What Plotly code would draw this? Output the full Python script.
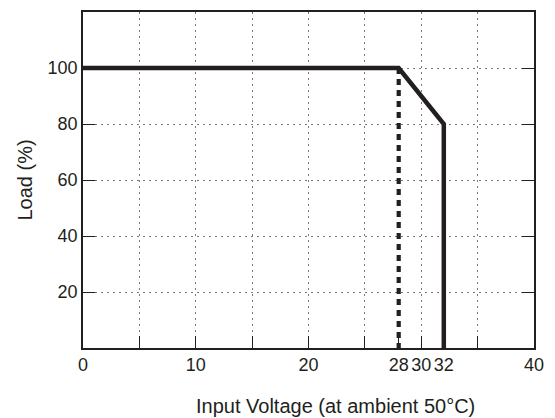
import plotly.graph_objects as go

# Derating curve data
curve_x = [0, 28, 32, 32]
curve_y = [100, 100, 80, 0]
marker_x = [28, 28]
marker_y = [100, 0]

x_tickvals = [0, 5, 10, 15, 20, 25, 28, 30, 32, 35, 40]
x_ticktext = ["0", "", "10", "", "20", "", "28", "30", "32", "", "40"]
x_gridvals = [5, 10, 15, 20, 25, 30, 35]
y_tickvals = [20, 40, 60, 80, 100]
y_ticktext = ["20", "40", "60", "80", "100"]

INK = "#231f20"
GRID = "#7a7a7a"
FONT = "Liberation Sans, Arial, Helvetica, sans-serif"

fig = go.Figure()
fig.add_trace(go.Scatter(x=marker_x, y=marker_y, mode="lines",
                         line=dict(color=INK, width=4.2, dash="6px,5px"),
                         showlegend=False, hoverinfo="skip"))
fig.add_trace(go.Scatter(x=curve_x, y=curve_y, mode="lines",
                         line=dict(color=INK, width=4.5),
                         showlegend=False))

# page body has an 8px default margin, so the figure is 8px smaller
fig.update_layout(
    width=547, height=410,
    margin=dict(l=75, r=21, t=2, b=70),
    paper_bgcolor="white", plot_bgcolor="white",
    font=dict(family=FONT, size=18, color=INK),
    xaxis=dict(
        range=[0, 40], showline=True, linecolor=INK, linewidth=1.5, mirror=True,
        tickvals=x_tickvals, ticktext=x_ticktext,
        ticks="inside", ticklen=12, tickwidth=1.2, tickcolor=INK,
        showgrid=False, zeroline=False,
        minor=dict(tickvals=x_gridvals, showgrid=True, gridcolor=GRID,
                   griddash="2px,4px", gridwidth=1, ticks=""),
        tickfont=dict(size=18),
    ),
    yaxis=dict(
        range=[0, 120], showline=True, linecolor=INK, linewidth=1.5, mirror="ticks",
        tickvals=y_tickvals, ticktext=y_ticktext,
        ticks="inside", ticklen=12, tickwidth=1.2, tickcolor=INK,
        showgrid=True, gridcolor=GRID, griddash="2px,4px", gridwidth=1,
        zeroline=False,
        title=dict(text="Load (%)", font=dict(size=20), standoff=10),
        tickfont=dict(size=18),
    ),
    annotations=[dict(
        text="Input Voltage (at ambient 50°C)", xref="paper", yref="paper",
        x=0.56, y=0, xanchor="center", yanchor="middle", yshift=-58,
        showarrow=False, font=dict(size=20, family=FONT, color=INK),
    )],
)

fig.write_html("out.html")
